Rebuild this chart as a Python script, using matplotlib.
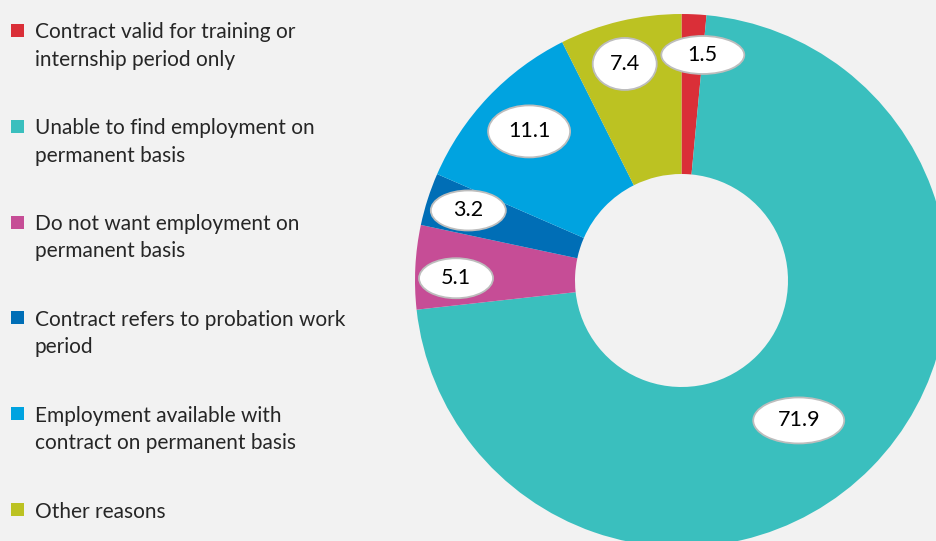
import numpy as np
import matplotlib
matplotlib.use('Agg')
import matplotlib.pyplot as plt
from matplotlib.patches import Ellipse, Rectangle

# data
categories = [
    'Contract valid for training or\ninternship period only',
    'Unable to find employment on\npermanent basis',
    'Do not want employment on\npermanent basis',
    'Contract refers to probation work\nperiod',
    'Employment available with\ncontract on permanent basis',
    'Other reasons',
]
values = [1.5, 71.9, 5.1, 3.2, 11.1, 7.4]
value_labels = ['1.5', '71.9', '5.1', '3.2', '11.1', '7.4']

colors = ['#DA2F38', '#3ABFBE', '#C64D96', '#006EB6', '#00A3E0', '#BCC222']
BG = '#F2F2F2'
TXT = '#262626'

# label bubble styles: radial fraction, angle nudge (deg), oval w/h (px)
lab_r = [0.85, 0.685, 0.846, 0.842, 0.80, 0.84]
lab_da = [-2.7, -5.5, 2.3, -0.4, -0.9, 1.4]
lab_wh = [(83, 38), (91, 46), (74, 40), (75, 40), (82, 52), (64, 52)]

W, H = 936, 541
fig = plt.figure(figsize=(W / 100, H / 100), dpi=100, facecolor=BG)
ax = fig.add_axes([0, 0, 1, 1], facecolor=BG)

cx, cy, R, r_in = 681.5, H - 280.5, 266.5, 106.5
wedges, _ = ax.pie(values, colors=colors, startangle=90, counterclock=False,
                   center=(cx, cy), radius=R,
                   wedgeprops=dict(width=R - r_in, linewidth=0))

for w, lab, fr, da, (ew, eh) in zip(wedges, value_labels, lab_r, lab_da, lab_wh):
    ang = np.deg2rad((w.theta1 + w.theta2) / 2 + da)
    x = cx + fr * R * np.cos(ang)
    y = cy + fr * R * np.sin(ang)
    ax.add_patch(Ellipse((x, y), ew, eh, facecolor='white',
                         edgecolor='#BDBDBD', linewidth=1.3, zorder=5))
    ax.text(x, y, lab, ha='center', va='center', fontsize=15.5,
            family='Lato', color='black', zorder=6)

# legend, drawn by hand
y0, step = H - 30.5, 95.8
for i, (lab, c) in enumerate(zip(categories, colors)):
    yy = y0 - i * step
    ax.add_patch(Rectangle((11, yy - 6.5), 13, 13, facecolor=c,
                           edgecolor='none'))
    ax.text(35, yy + 8, lab, ha='left', va='top', fontsize=15,
            family='Lato', color=TXT, linespacing=1.46)

ax.set_xlim(0, W)
ax.set_ylim(0, H)
ax.set_aspect('equal')
ax.axis('off')

fig.savefig('out.png', dpi=100, facecolor=BG)
